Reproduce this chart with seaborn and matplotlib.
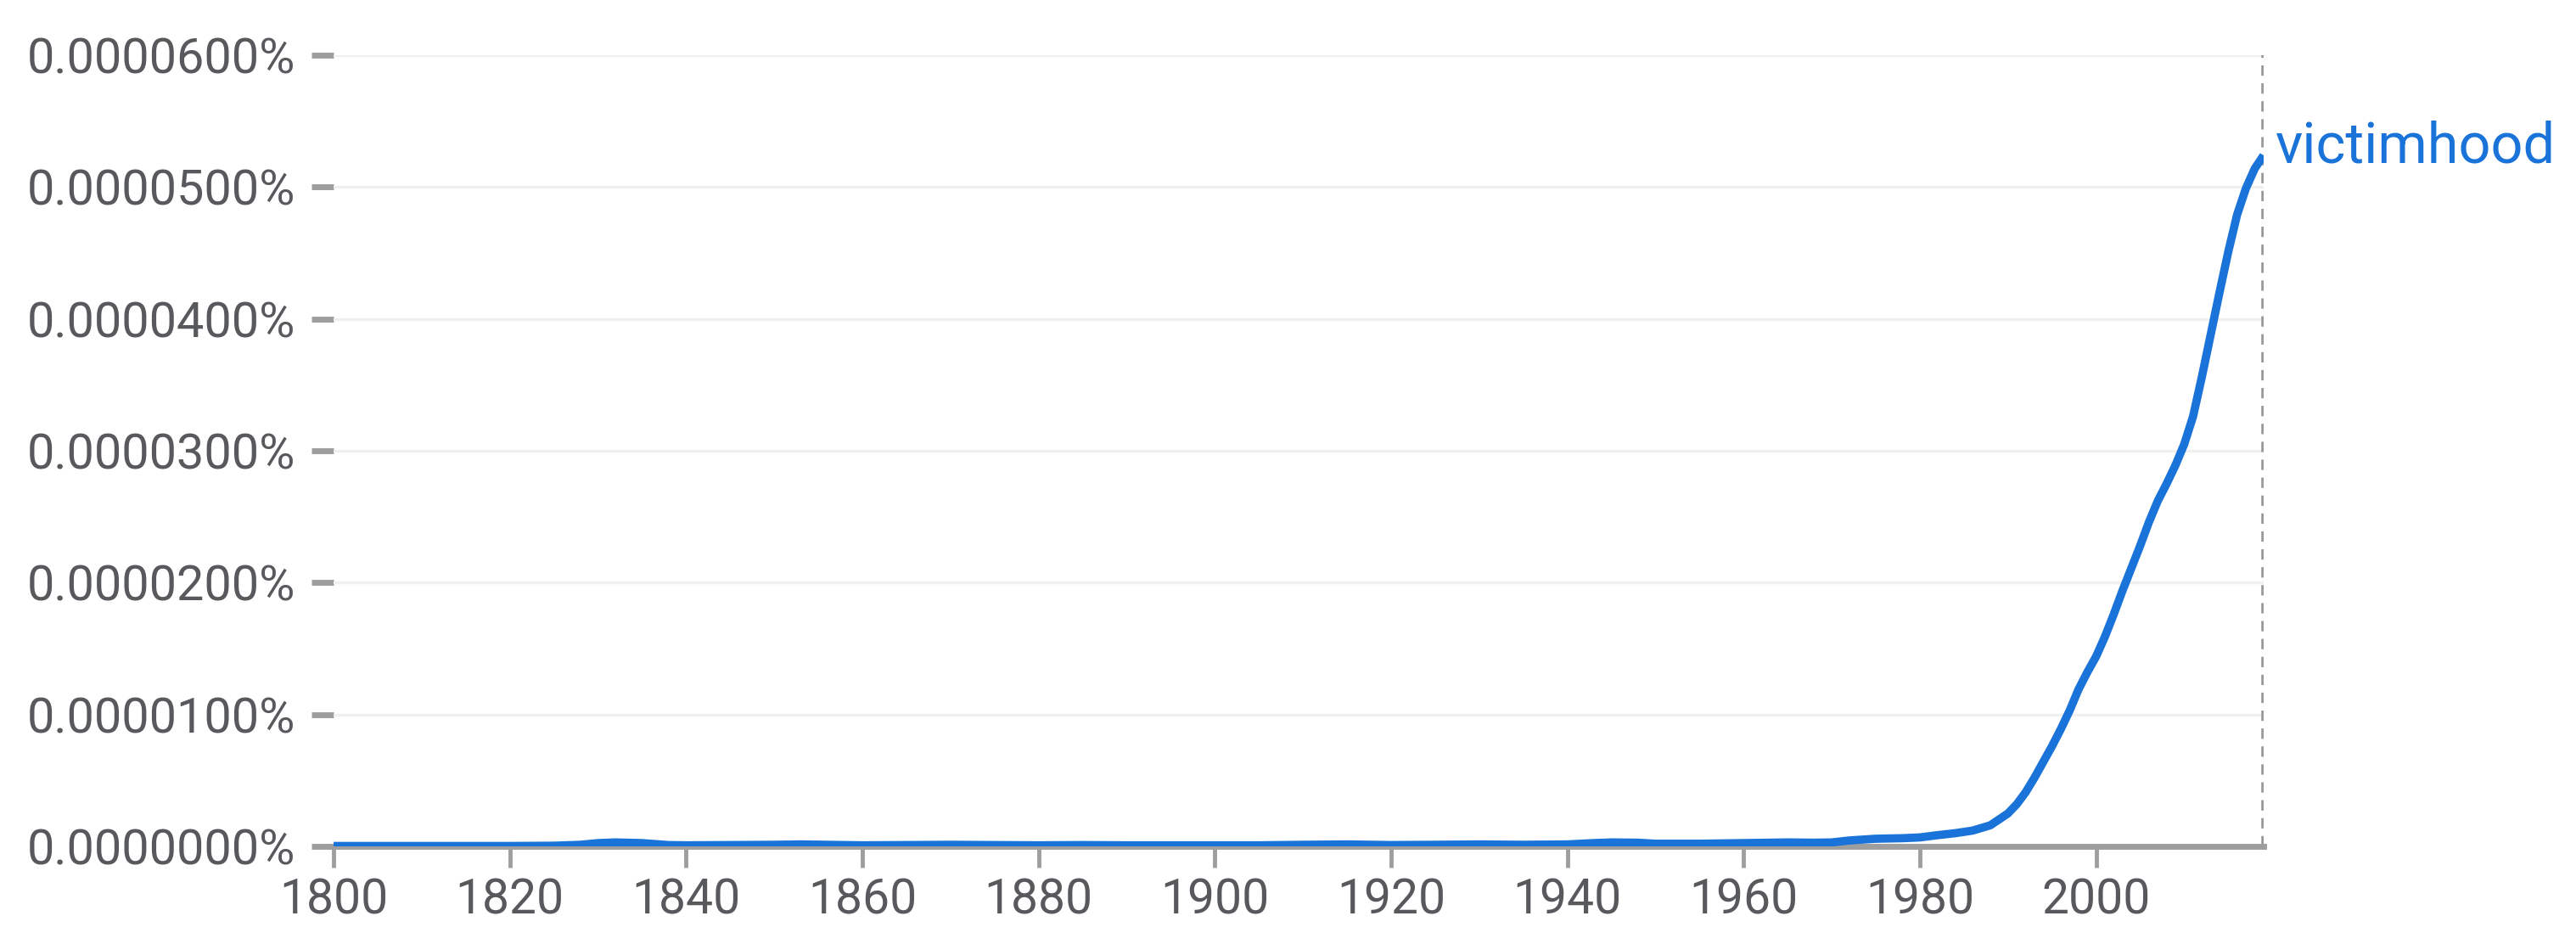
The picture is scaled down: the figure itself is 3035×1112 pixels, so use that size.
import matplotlib
matplotlib.use('Agg')
import matplotlib.pyplot as plt
import matplotlib.ticker as mticker
import numpy as np
import seaborn as sns

# Ngram frequency of "victimhood" (units of 1e-7 %)
years = [1800, 1805, 1810, 1815, 1820, 1825, 1828, 1830, 1832, 1835, 1838,
         1840, 1845, 1850, 1853, 1856, 1860, 1865, 1870, 1875, 1880, 1885,
         1890, 1895, 1900, 1905, 1910, 1915, 1920, 1925, 1930, 1935, 1940,
         1943, 1945, 1948, 1950, 1955, 1960, 1965, 1968, 1970, 1972, 1975,
         1978, 1980, 1982, 1984, 1986, 1988, 1990, 1991, 1992, 1993, 1994,
         1995, 1996, 1997, 1998, 1999, 2000, 2001, 2002, 2003, 2004, 2005,
         2006, 2007, 2008, 2009, 2010, 2011, 2012, 2013, 2014, 2015, 2016,
         2017, 2018, 2019]
freq_e7 = [0.3, 0.3, 0.3, 0.3, 0.3, 0.5, 1.2, 2.5, 3.0, 2.5, 1.0,
           0.8, 1.0, 1.2, 1.5, 1.2, 0.8, 1.0, 1.2, 1.0, 0.8, 1.0,
           0.8, 0.8, 0.8, 0.8, 1.2, 1.5, 1.0, 1.2, 1.5, 1.2, 1.5,
           2.5, 3.0, 2.8, 2.0, 2.0, 2.5, 3.0, 2.8, 3.0, 4.5, 5.8,
           6.2, 6.8, 8.5, 10, 12, 16, 25, 32, 41, 52, 64,
           76, 89, 103, 119, 132, 144, 159, 176, 194, 211, 228,
           246, 262, 275, 289, 305, 326, 356, 388, 420, 451, 479,
           499, 514, 524]
label = 'victimhood'

freq = np.array(freq_e7) * 1e-7  # percent
yticks = np.arange(0, 7) * 1e-5

sns.set_theme(style='white')
plt.rcParams['font.family'] = ['Roboto', 'DejaVu Sans']

line_color = '#1a73d8'
axis_grey = '#9e9e9e'
text_grey = '#57595c'

fig, ax = plt.subplots(figsize=(30.35, 11.12), dpi=100)
fig.subplots_adjust(left=0.1295, right=0.8787, bottom=0.1034, top=0.9415)

sns.lineplot(x=years, y=freq, ax=ax, color=line_color, linewidth=7,
             solid_capstyle='butt', solid_joinstyle='round', zorder=3)

ax.set_xlim(1800, 2019)
ax.set_ylim(0, 6e-5)
ax.set_xticks(np.arange(1800, 2001, 20))
ax.set_yticks(yticks)
ax.yaxis.set_major_formatter(mticker.FuncFormatter(lambda v, p: f'{v:.7f}%'))

for y in yticks[1:]:
    ax.axhline(y, color='#f0f0f0', linewidth=2.5, zorder=1)

# dotted marker at the last year
ax.axvline(2019, color='#999999', linewidth=4, linestyle=(0, (2.2, 1.6)), zorder=2)

for side in ['top', 'right', 'left']:
    ax.spines[side].set_visible(False)
ax.spines['bottom'].set_color(axis_grey)
ax.spines['bottom'].set_linewidth(5)
ax.spines['bottom'].set_zorder(2)

ax.tick_params(axis='x', direction='out', length=18, width=3.5, color=axis_grey,
               labelsize=41, labelcolor=text_grey, pad=8, bottom=True)
ax.tick_params(axis='y', direction='out', length=19, width=5, color=axis_grey,
               labelsize=41.5, labelcolor=text_grey, pad=13, left=True)
ax.set_xlabel('')
ax.set_ylabel('')

ax.annotate(label, xy=(2019, freq[-1]), xytext=(14, -8), textcoords='offset pixels',
            ha='left', va='baseline', fontsize=48, color=line_color,
            annotation_clip=False)

plt.savefig('out.png', dpi=100)
